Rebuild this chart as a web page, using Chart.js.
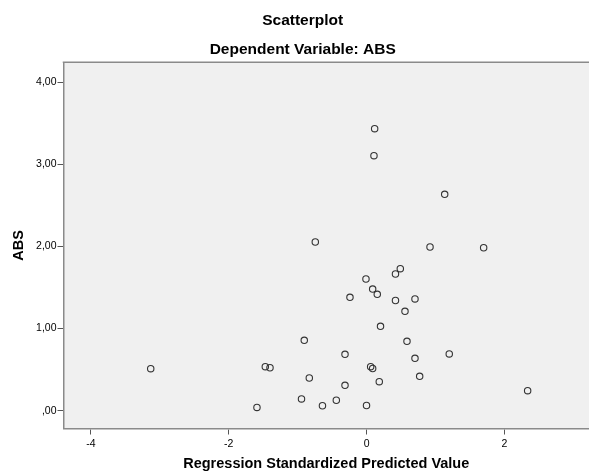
<!DOCTYPE html>
<html>
<head>
<meta charset="utf-8">
<script src="https://cdn.jsdelivr.net/npm/chart.js@4/dist/chart.umd.min.js"></script>
<style>
  html, body { margin: 0; padding: 0; background: #ffffff; }
  #wrap { width: 589px; height: 473px; }
</style>
</head>
<body>
<div id="wrap"><canvas id="c" width="589" height="473"></canvas></div>
<script>
// Regression standardized predicted value (x) and ABS (y)
const predicted = [0.117, 0.107, 1.133, -0.744, 0.920, 1.698, 0.489, 0.419, -0.009, 0.088,
                   0.155, -0.241, 0.419, 0.702, 0.557, 0.202, -0.904, 0.586, -0.313, 1.199,
                   0.702, -3.131, -1.469, -1.401, 0.059, 0.088, -0.831, 0.184, 0.770, -0.313,
                   2.336, -0.944, -0.439, -0.640, -0.001, -1.590];
const absValues = [3.435, 3.106, 2.636, 2.055, 1.994, 1.985, 1.730, 1.665, 1.604, 1.482,
                   1.418, 1.381, 1.342, 1.361, 1.211, 1.028, 0.857, 0.845, 0.687, 0.691,
                   0.638, 0.512, 0.536, 0.523, 0.536, 0.514, 0.398, 0.353, 0.419, 0.309,
                   0.244, 0.143, 0.127, 0.060, 0.063, 0.040];
const xTickValues = [-4, -2, 0, 2];
const xTickLabels = ['-4', '-2', '0', '2'];
const yTickValues = [0, 1, 2, 3, 4];
const yTickLabels = [',00', '1,00', '2,00', '3,00', '4,00'];

const points = predicted.map((x, i) => ({ x: x, y: absValues[i] }));

const FONT = "'Liberation Sans', Arial, sans-serif";

const plotFrame = {
  id: 'plotFrame',
  beforeDraw(chart) {
    const { ctx, chartArea: a } = chart;
    ctx.save();
    ctx.fillStyle = '#f0f0f0';
    ctx.fillRect(a.left, a.top, a.right - a.left, a.bottom - a.top);
    ctx.restore();
  },
  afterDraw(chart) {
    const { ctx, chartArea: a } = chart;
    ctx.save();
    ctx.strokeStyle = '#8a8a8a';
    ctx.lineWidth = 1.5;
    ctx.beginPath();
    ctx.moveTo(a.left - 0.75, a.top);
    ctx.lineTo(a.right, a.top);
    ctx.stroke();
    ctx.restore();
  }
};

new Chart(document.getElementById('c'), {
  type: 'scatter',
  data: {
    datasets: [{
      data: points,
      showLine: false,
      pointStyle: 'circle',
      pointRadius: 3.2,
      pointHoverRadius: 3.2,
      pointBorderWidth: 1.1,
      pointBorderColor: '#333333',
      pointBackgroundColor: 'rgba(0,0,0,0)',
      clip: false
    }]
  },
  options: {
    responsive: false,
    animation: false,
    devicePixelRatio: 1,
    layout: { autoPadding: false, padding: { left: 16.4, right: 0, top: 0, bottom: 0 } },
    plugins: {
      legend: { display: false },
      tooltip: { enabled: false },
      title: {
        display: true,
        text: 'Scatterplot',
        color: '#000',
        font: { family: FONT, size: 15.5, weight: 'bold' },
        padding: { top: 11.7, bottom: 10.4 }
      },
      subtitle: {
        display: true,
        text: 'Dependent Variable: ABS',
        color: '#000',
        font: { family: FONT, size: 15.5, weight: 'bold' },
        padding: { top: 0, bottom: 3.0 }
      }
    },
    scales: {
      x: {
        type: 'linear',
        min: -4.396,
        max: 3.226,
        afterBuildTicks(scale) { scale.ticks = xTickValues.map(v => ({ value: v })); },
        afterFit(scale) { scale.height = 44.5; },
        ticks: {
          color: '#000',
          font: { family: FONT, size: 10.5 },
          padding: 3.5,
          maxRotation: 0,
          callback(value) { const i = xTickValues.indexOf(value); return i >= 0 ? xTickLabels[i] : ''; }
        },
        grid: { drawOnChartArea: false, drawTicks: true, tickLength: 6, color: '#555', lineWidth: 1 },
        border: { display: true, color: '#8a8a8a', width: 1.5 },
        title: {
          display: true,
          text: 'Regression Standardized Predicted Value',
          color: '#000',
          font: { family: FONT, size: 14.5, weight: 'bold' },
          padding: { top: 0, bottom: 0.3 }
        }
      },
      y: {
        type: 'linear',
        min: -0.217,
        max: 4.244,
        afterBuildTicks(scale) { scale.ticks = yTickValues.map(v => ({ value: v })); },
        afterFit(scale) { scale.width = 47.1; },
        ticks: {
          color: '#000',
          font: { family: FONT, size: 10.5 },
          padding: 1,
          callback(value) { const i = yTickValues.indexOf(value); return i >= 0 ? yTickLabels[i] : ''; }
        },
        grid: { drawOnChartArea: false, drawTicks: true, tickLength: 6, color: '#555', lineWidth: 1 },
        border: { display: true, color: '#8a8a8a', width: 1.5 },
        title: {
          display: true,
          text: 'ABS',
          color: '#000',
          font: { family: FONT, size: 14.5, weight: 'bold' },
          padding: { top: -6.1, bottom: 0 }
        }
      }
    }
  },
  plugins: [plotFrame]
});
</script>
</body>
</html>
